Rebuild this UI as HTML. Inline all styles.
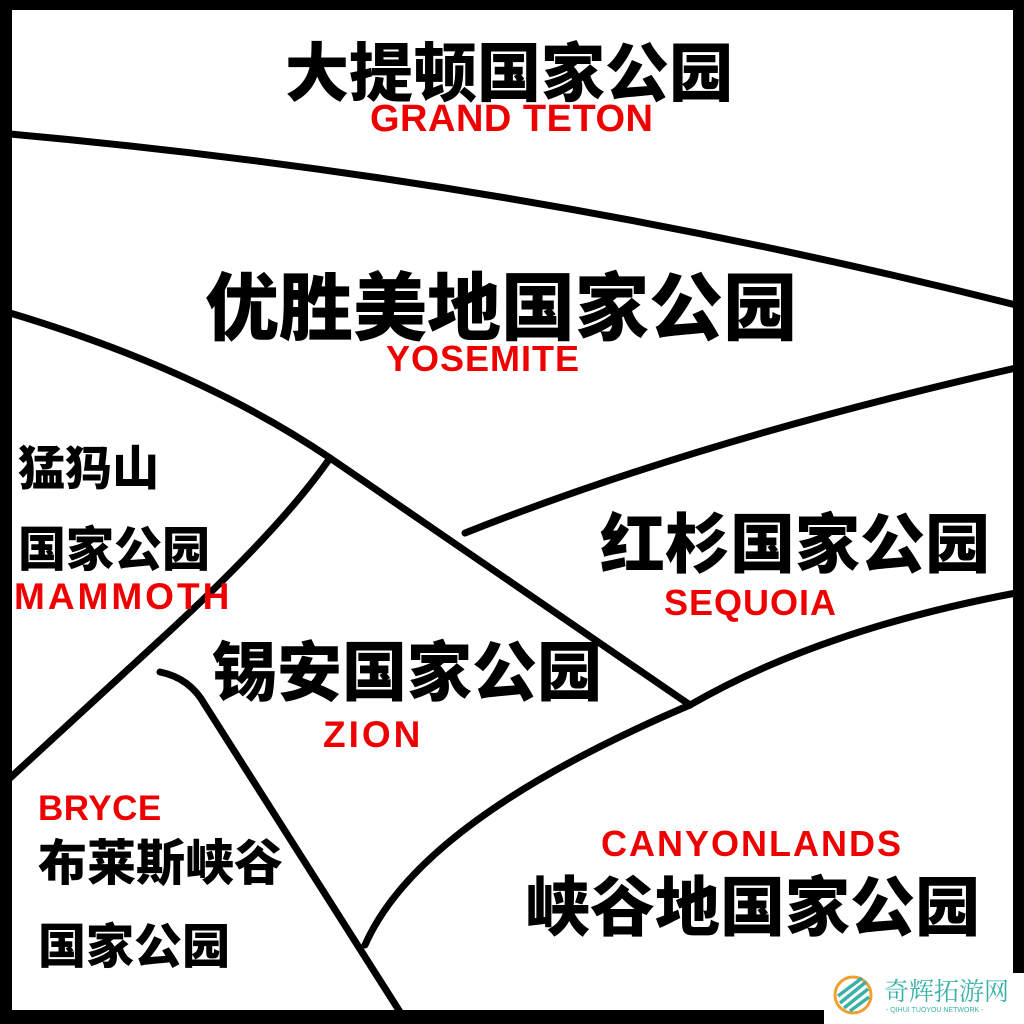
<!DOCTYPE html>
<html><head><meta charset="utf-8"><style>
html,body{margin:0;padding:0;background:#fff}
#c{position:relative;width:1024px;height:1024px;overflow:hidden;background:#fff}
.t{position:absolute;white-space:nowrap;font-family:"Liberation Sans","Noto Sans CJK SC",sans-serif;font-weight:900;color:#000;line-height:1}
.r{position:absolute;white-space:nowrap;font-family:"Liberation Sans",sans-serif;font-weight:bold;color:#ee0000;line-height:1;letter-spacing:0.5px}
</style></head><body><div id="c">
<svg width="1024" height="1024" style="position:absolute;left:0;top:0">
<g fill="none" stroke="#000" stroke-width="7" stroke-linecap="round">
<path d="M10 134 Q520 180 1016 305"/>
<path d="M10 313 Q200 370 330 458 L690 705"/>
<path d="M465 533 Q700 440 1016 368"/>
<path d="M690 705 Q820 630 1016 593"/>
<path d="M10 778 L160 640 Q280 530 330 458"/>
<path d="M160 672 Q190 678 205 705 L400 1012"/>
<path d="M365 945 Q420 820 690 705"/>
</g>
<rect x="0" y="0" width="1024" height="10" fill="#000"/>
<rect x="0" y="0" width="12" height="1024" fill="#000"/>
<rect x="1013" y="0" width="11" height="973" fill="#000"/>
<rect x="0" y="1010" width="824" height="14" fill="#000"/>
<circle cx="853" cy="995" r="18" fill="none" stroke="#f0a030" stroke-width="3"/>
<g stroke="#3ab0a8" stroke-width="3.5">
<line x1="840" y1="1003" x2="866" y2="982"/><line x1="838" y1="996" x2="862" y2="978"/><line x1="844" y1="1008" x2="868" y2="989"/><line x1="850" y1="1011" x2="869" y2="997"/>
</g>
</svg>
<div class="t" style="left:285px;top:42px;font-size:64px">大提顿国家公园</div>
<div class="r" style="left:370px;top:100px;font-size:38px">GRAND TETON</div>
<div class="t" style="left:205px;top:272px;font-size:74px">优胜美地国家公园</div>
<div class="r" style="left:386px;top:341px;font-size:36px;letter-spacing:1px">YOSEMITE</div>
<div class="t" style="left:18px;top:445px;font-size:47px">猛犸山</div>
<div class="t" style="left:18px;top:527px;font-size:48px">国家公园</div>
<div class="r" style="left:14px;top:578px;font-size:37px;letter-spacing:3px">MAMMOTH</div>
<div class="t" style="left:600px;top:512px;font-size:65px">红杉国家公园</div>
<div class="r" style="left:664px;top:585px;font-size:36px;letter-spacing:1px">SEQUOIA</div>
<div class="t" style="left:212px;top:640px;font-size:65px">锡安国家公园</div>
<div class="r" style="left:323px;top:716px;font-size:37px;letter-spacing:3px">ZION</div>
<div class="r" style="left:38px;top:791px;font-size:35px">BRYCE</div>
<div class="t" style="left:38px;top:840px;font-size:49px">布莱斯峡谷</div>
<div class="t" style="left:38px;top:924px;font-size:48px">国家公园</div>
<div class="r" style="left:601px;top:826px;font-size:36px;letter-spacing:2px">CANYONLANDS</div>
<div class="t" style="left:525px;top:875px;font-size:65px">峡谷地国家公园</div>
<div style="position:absolute;left:884px;top:978px;font-family:'Noto Serif CJK SC','Noto Sans CJK SC',serif;font-size:25px;color:#3ab0a8;line-height:1;white-space:nowrap">奇辉拓游网</div>
<div style="position:absolute;left:886px;top:1007px;font-family:'Liberation Sans',sans-serif;font-size:7px;color:#3ab0a8;line-height:1;white-space:nowrap">- QIHUI TUOYOU NETWORK -</div>
</div></body></html>
